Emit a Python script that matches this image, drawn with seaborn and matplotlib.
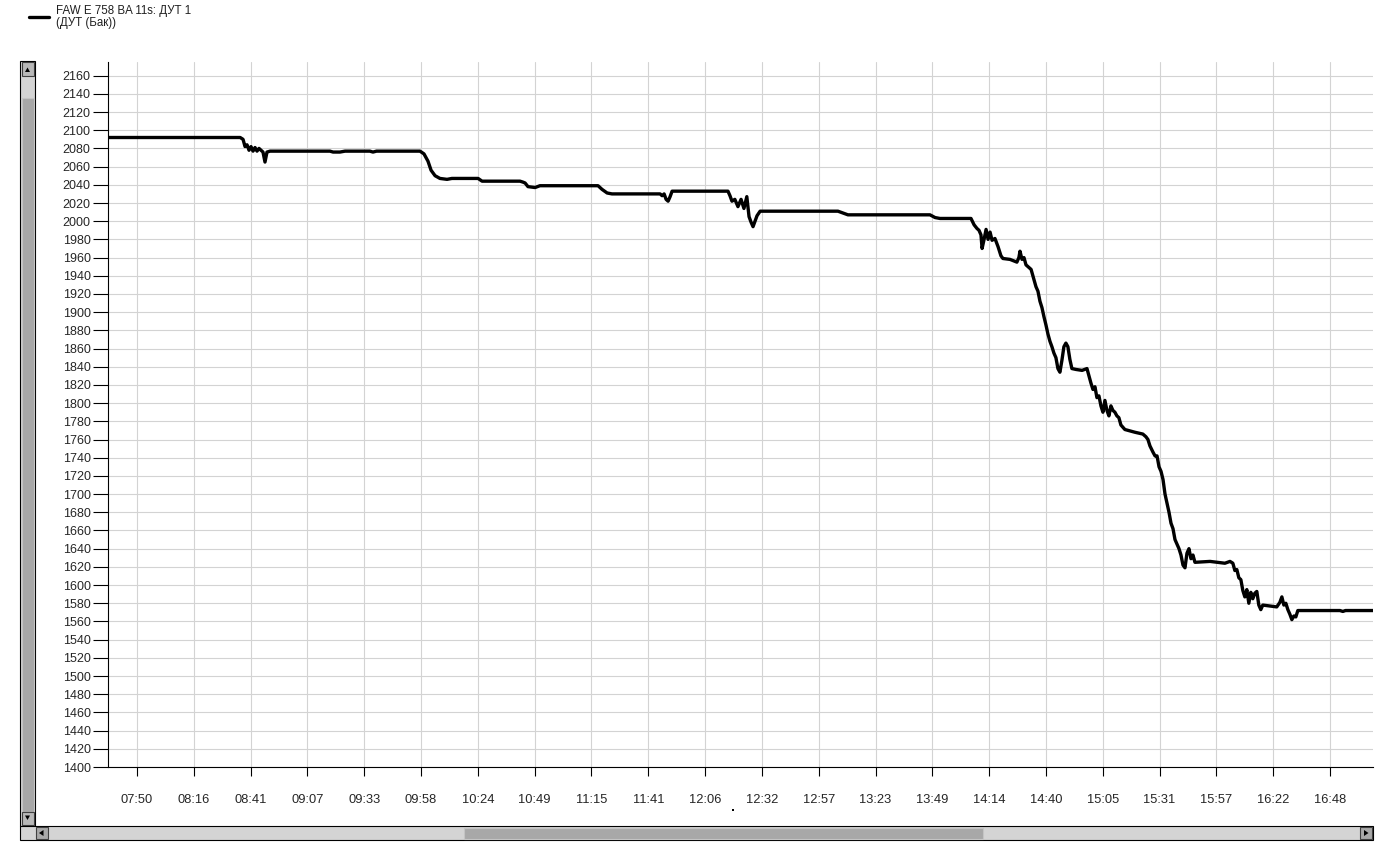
import numpy as np
import pandas as pd
import matplotlib
matplotlib.use('Agg')
import matplotlib.pyplot as plt
from matplotlib.patches import Rectangle, Polygon
import seaborn as sns

# time of day in minutes since midnight, fuel level from the sensor
minutes = [457.0, 516.5, 517.8, 518.7, 519.6, 520.5, 521.4, 522.3, 523.2, 524.1,
           525.0, 525.9, 526.8, 527.7, 528.6, 530.0, 557.0, 558.4, 561.5, 563.8,
           575.0, 576.4, 578.0, 597.6, 599.4, 601.2, 602.6, 604.4, 606.6, 609.8,
           612.0, 623.8, 625.6, 642.7, 644.0, 645.0, 646.3, 649.5, 651.7, 677.9,
           679.7, 682.0, 684.2, 705.9, 706.8, 707.7, 708.6, 709.5, 710.4, 711.3,
           736.5, 737.4, 738.3, 739.6, 741.0, 742.4, 743.7, 745.0, 746.0, 746.9,
           747.8, 748.7, 749.6, 751.0, 786.1, 788.4, 790.6, 827.6, 829.9, 832.1,
           846.1, 847.5, 848.8, 849.7, 850.6, 851.1, 852.0, 852.9, 853.8, 854.7,
           855.6, 856.9, 858.3, 859.6, 860.5, 863.7, 866.8, 867.7, 868.2, 869.1,
           870.0, 870.9, 871.8, 873.2, 874.5, 875.4, 876.3, 877.2, 878.1, 879.0,
           879.9, 880.8, 881.7, 882.6, 883.5, 884.4, 885.3, 886.2, 887.1, 888.0,
           888.9, 889.8, 890.7, 891.6, 893.5, 896.2, 898.4, 899.3, 900.2, 901.1,
           902.0, 902.9, 903.8, 904.7, 905.6, 906.5, 907.4, 908.3, 909.2, 910.1,
           911.0, 911.9, 912.8, 913.7, 915.5, 920.0, 923.6, 925.0, 925.9, 926.8,
           928.2, 929.1, 930.0, 930.9, 931.8, 932.7, 933.6, 934.5, 935.4, 936.3,
           937.2, 938.1, 939.0, 939.9, 940.8, 941.7, 942.6, 943.5, 944.4, 945.3,
           946.2, 947.1, 953.9, 960.6, 962.9, 964.2, 965.1, 966.0, 966.9, 967.8,
           968.7, 969.6, 970.5, 971.4, 972.3, 973.2, 974.1, 975.0, 975.9, 976.8,
           977.7, 980.9, 984.0, 985.4, 986.3, 987.2, 988.1, 989.0, 989.9, 990.8,
           991.7, 992.6, 993.5, 1012.5, 1013.8, 1015.0, 1027.4]
level = [2092, 2092, 2090, 2082, 2084, 2078, 2082, 2077, 2081, 2077,
         2080, 2078, 2076, 2065, 2076, 2077, 2077, 2076, 2076, 2077,
         2077, 2076, 2077, 2077, 2074, 2066, 2056, 2050, 2047, 2046,
         2047, 2047, 2044, 2044, 2043, 2042, 2038, 2037, 2039, 2039,
         2035, 2031, 2030, 2030, 2028, 2030, 2024, 2022, 2027, 2033,
         2033, 2028, 2022, 2024, 2016, 2024, 2014, 2027, 2005, 1999,
         1994, 2000, 2006, 2011, 2011, 2009, 2007, 2007, 2004, 2003,
         2003, 1996, 1992, 1990, 1985, 1970, 1980, 1991, 1980, 1988,
         1979, 1981, 1972, 1962, 1959, 1958, 1955, 1960, 1967, 1958,
         1960, 1952, 1950, 1947, 1936, 1928, 1923, 1912, 1905, 1895,
         1886, 1876, 1868, 1862, 1855, 1850, 1838, 1834, 1847, 1862,
         1866, 1862, 1848, 1838, 1837, 1836, 1838, 1830, 1822, 1815,
         1818, 1806, 1808, 1797, 1790, 1803, 1792, 1786, 1797, 1792,
         1790, 1786, 1784, 1776, 1771, 1768, 1766, 1763, 1760, 1753,
         1746, 1742, 1742, 1730, 1725, 1716, 1700, 1690, 1680, 1668,
         1662, 1650, 1645, 1640, 1633, 1622, 1619, 1635, 1640, 1629,
         1633, 1625, 1626, 1624, 1626, 1624, 1616, 1617, 1608, 1606,
         1594, 1587, 1595, 1580, 1592, 1585, 1591, 1593, 1578, 1573,
         1578, 1577, 1576, 1581, 1587, 1578, 1580, 1573, 1568, 1562,
         1566, 1565, 1572, 1572, 1571, 1572, 1572]
tick_labels = ['07:50', '08:16', '08:41', '09:07', '09:33', '09:58', '10:24', '10:49',
               '11:15', '11:41', '12:06', '12:32', '12:57', '13:23', '13:49', '14:14',
               '14:40', '15:05', '15:31', '15:57', '16:22', '16:48']
series_name = 'FAW E 758 BA 11s: ДУТ 1\n(ДУТ (Бак))'

sns.set_style('white')
plt.rcParams['font.family'] = ['Liberation Sans', 'DejaVu Sans']

W, H = 1394, 859
fig = plt.figure(figsize=(W / 100, H / 100), dpi=100)
ax = fig.add_axes([108 / W, 1 - 767 / H, (1373 - 108) / W, (767 - 62) / H])

df = pd.DataFrame({'t': minutes, 'v': level})
sns.lineplot(data=df, x='t', y='v', color='black', lw=2.4, ax=ax,
             label=series_name, estimator=None, sort=False)

ax.set_xlim(456.9, 1027.4)
ax.set_ylim(1400, 2175)
ax.set_yticks(np.arange(1400, 2161, 20))
ax.set_xticks(np.linspace(470, 1008, len(tick_labels)))
ax.set_xticklabels(tick_labels)
ax.set_xlabel('')
ax.set_ylabel('')
ax.grid(True, color='#d3d3d3', lw=0.8)
for s in ['top', 'right']:
    ax.spines[s].set_visible(False)
for s in ['left', 'bottom']:
    ax.spines[s].set_color('black')
    ax.spines[s].set_linewidth(0.8)
ax.tick_params(axis='y', length=10.5, width=0.8, pad=2, labelsize=9, left=True, color='black')
ax.tick_params(axis='x', length=6.5, width=0.8, pad=13, labelsize=9.3, bottom=True, color='black')

leg = ax.legend(loc='upper left', bbox_to_anchor=(29 / W, 1 - 5 / H), bbox_transform=fig.transFigure,
                frameon=False, fontsize=8.3, handlelength=1.75, handletextpad=0.55,
                borderpad=0, borderaxespad=0)
for t in leg.get_texts():
    t.set_linespacing(1.0)
    t.set_color('#202020')


# scrollbars around the plot
def px_rect(x0, y0, x1, y1, fc, ec='none', lw=0.0):
    fig.patches.append(Rectangle((x0 / W, 1 - y1 / H), (x1 - x0) / W, (y1 - y0) / H,
                                 transform=fig.transFigure, fc=fc, ec=ec, lw=lw))


def px_tri(pts):
    fig.patches.append(Polygon([(x / W, 1 - y / H) for x, y in pts], closed=True,
                               transform=fig.transFigure, fc='black', ec='none'))


# vertical bar
px_rect(20, 61, 35, 826, '#d4d4d4', 'black', 0.8)
px_rect(21.5, 62.5, 33.5, 75.5, '#b8b8b8', '#404040', 0.8)
px_tri([(25, 72), (30, 72), (27.5, 67.5)])
px_rect(21.5, 98, 33.5, 811.5, '#a8a8a8', '#c4c4c4', 0.8)
px_rect(21.5, 812, 33.5, 825, '#b8b8b8', '#404040', 0.8)
px_tri([(25, 815.5), (30, 815.5), (27.5, 820)])
# horizontal bar
px_rect(20, 826, 1373, 840, '#d4d4d4', 'black', 0.8)
px_rect(35.5, 827, 47.5, 839, '#a8a8a8', '#404040', 0.8)
px_tri([(43.5, 830), (43.5, 836), (39, 833)])
px_rect(464, 827.5, 983, 838.5, '#a8a8a8', '#c4c4c4', 0.8)
px_rect(1360, 827, 1372, 839, '#a8a8a8', '#404040', 0.8)
px_tri([(1364, 830), (1364, 836), (1368.5, 833)])
px_rect(732, 809, 734, 811, 'black')

fig.savefig('out.png', dpi=100)
